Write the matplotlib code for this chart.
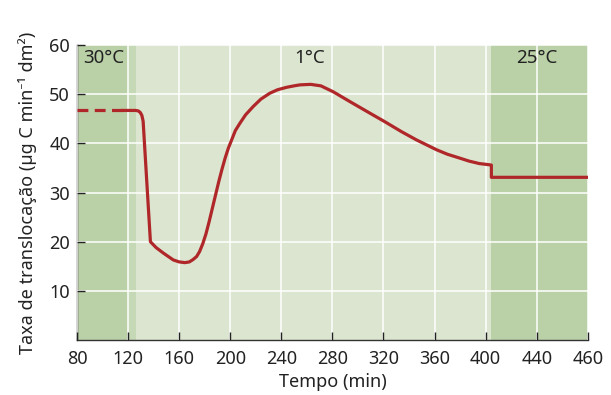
import matplotlib
matplotlib.use("Agg")
import matplotlib.pyplot as plt

plt.rcParams['font.family'] = ['Noto Sans', 'DejaVu Sans']

# tick positions and labels (last label printed as 460 in the original)
x_ticks = [80, 120, 160, 200, 240, 280, 320, 360, 400, 440, 480]
x_tick_labels = ["80", "120", "160", "200", "240", "280", "320", "360", "400", "440", "460"]
y_ticks = [10, 20, 30, 40, 50, 60]

# temperature periods
period_labels = ["30°C", "1°C", "25°C"]
period_label_x = [101, 262, 440]
period_starts = [80, 126, 404]
period_ends = [126, 404, 480]

# dashed part before the measurement
dash_x = [80, 116]
dash_y = [46.7, 46.7]

# measured translocation rate
rate_x = [116, 126, 128, 129.5, 130.8, 131.8, 137.5, 142, 147.6, 151.5, 155.4, 160,
          164.5, 168, 171, 173.7, 176, 178.5, 181, 183.5, 186, 188.5, 191, 193.5,
          196, 198.5, 201.1, 204, 207.6, 212, 218, 224, 231, 237, 244.1, 250,
          254.6, 263, 271, 280.6, 293.7, 307, 321.1, 334, 345.9, 361.6, 370,
          379.8, 387, 395, 404.5, 404.5, 480]
rate_y = [46.7, 46.7, 46.6, 46.3, 45.7, 44.5, 20, 18.8, 17.7, 17.0, 16.3, 15.9,
          15.75, 15.9, 16.4, 17.0, 18.0, 19.6, 21.6, 24.1, 26.8, 29.5, 32.2, 34.7,
          37.0, 39.0, 40.7, 42.6, 44.1, 45.8, 47.5, 49.0, 50.2, 50.9, 51.4, 51.7,
          51.9, 52.0, 51.7, 50.5, 48.5, 46.5, 44.4, 42.4, 40.7, 38.7, 37.8,
          37.0, 36.4, 35.9, 35.6, 33.1, 33.1]

dark_green = "#bad0a7"
light_green = "#dbe5cf"
strip_green = "#c6d9b6"
red = "#b0272a"

fig = plt.figure(figsize=(6.11, 3.95), dpi=100)
ax = fig.add_axes([0.126, 0.139, 0.836, 0.747])

ax.axvspan(period_starts[0], 120, color=dark_green, lw=0, zorder=0)
ax.axvspan(120, period_ends[0], color=strip_green, lw=0, zorder=0)
ax.axvspan(period_starts[1], period_ends[1], color=light_green, lw=0, zorder=0)
ax.axvspan(period_starts[2], period_ends[2], color=dark_green, lw=0, zorder=0)

ax.grid(True, color="white", lw=1.1, zorder=1)
ax.set_axisbelow(False)

ax.plot(dash_x, dash_y, color=red, lw=2.3, ls=(0, (3.4, 2.0)), zorder=3)
ax.plot(rate_x, rate_y, color=red, lw=2.3, solid_joinstyle="round", zorder=3)

for lab, lx in zip(period_labels, period_label_x):
    ax.text(lx, 57.3, lab, ha="center", va="center", fontsize=13.5, color="#222222", zorder=4)

ax.set_xlim(80, 480)
ax.set_ylim(0, 60)
ax.set_xticks(x_ticks)
ax.set_xticklabels(x_tick_labels)
ax.set_yticks(y_ticks)
ax.tick_params(direction="in", length=6, width=1, labelsize=13, colors="#222222", pad=5)
ax.tick_params(axis="x", pad=7)
for s in ["top", "right"]:
    ax.spines[s].set_visible(False)
for s in ["left", "bottom"]:
    ax.spines[s].set_color("#333333")
    ax.spines[s].set_linewidth(1)

ax.set_xlabel("Tempo (min)", fontsize=13, color="#222222", labelpad=4)
ax.set_ylabel("Taxa de translocação (µg C min⁻¹ dm²)", fontsize=13, color="#222222", labelpad=9)

fig.savefig("out.png", dpi=100)
